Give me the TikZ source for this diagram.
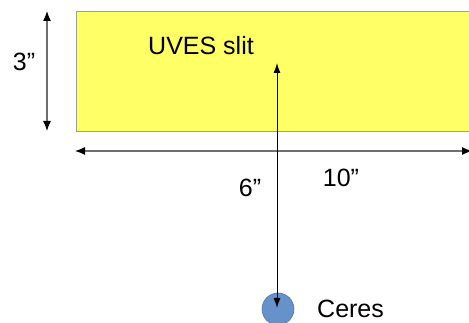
\documentclass[tikz,border=0pt]{standalone}
\usepackage{fontspec}
\setmainfont{Liberation Sans}
\usetikzlibrary{arrows.meta}
\definecolor{slitfill}{RGB}{255,255,102}
\definecolor{slitborder}{RGB}{150,165,140}
\definecolor{dimgray}{RGB}{110,110,110}
\definecolor{ceresblue}{RGB}{102,146,204}
\definecolor{ceresedge}{RGB}{80,120,180}
\tikzset{
  lbl/.style={font=\fontsize{25}{29}\selectfont, inner sep=0pt},
  dimarrow/.style={draw=dimgray, line width=1.2pt, {Latex[length=10pt,width=8pt,color=black]}-{Latex[length=10pt,width=8pt,color=black]}},
  sightarrow/.style={draw=black, line width=1pt, {Latex[length=10pt,width=7pt]}-{Latex[length=10pt,width=7pt]}}
}
\begin{document}
\begin{tikzpicture}[x=1pt,y=-1pt]
\useasboundingbox (0,0) rectangle (469,323);
\clip (0,0) rectangle (469,323);
% slit
\node[draw=slitborder, fill=slitfill, line width=1pt, minimum width=400pt, minimum height=120pt, anchor=north west, inner sep=0pt] (slit) at (75.5,11.5) {};
\node[lbl, anchor=west] (uves) at (148,46) {UVES slit};
% dimension coordinates
\coordinate (h1) at (47,11);
\coordinate (h2) at (47,131);
\coordinate (w1) at (75,151);
\coordinate (w2) at (472,151);
\draw[dimarrow] (h1) -- (h2);
\draw[dimarrow] (w1) -- (w2);
\node[lbl] (three) at (24,62) {3”};
\node[lbl] (ten) at (341,178) {10”};
% Ceres
\node[circle, fill=ceresblue, draw=ceresedge, line width=0.6pt, minimum size=32pt, inner sep=0pt] (ceres) at (278,309) {};
\node[lbl, anchor=west] (cereslbl) at (317,309) {Ceres};
\coordinate (top) at (277,63);
\coordinate (bot) at (277,308);
\draw[sightarrow] (bot) -- (top);
\node[lbl] (six) at (250,188) {6”};
\end{tikzpicture}
\end{document}
